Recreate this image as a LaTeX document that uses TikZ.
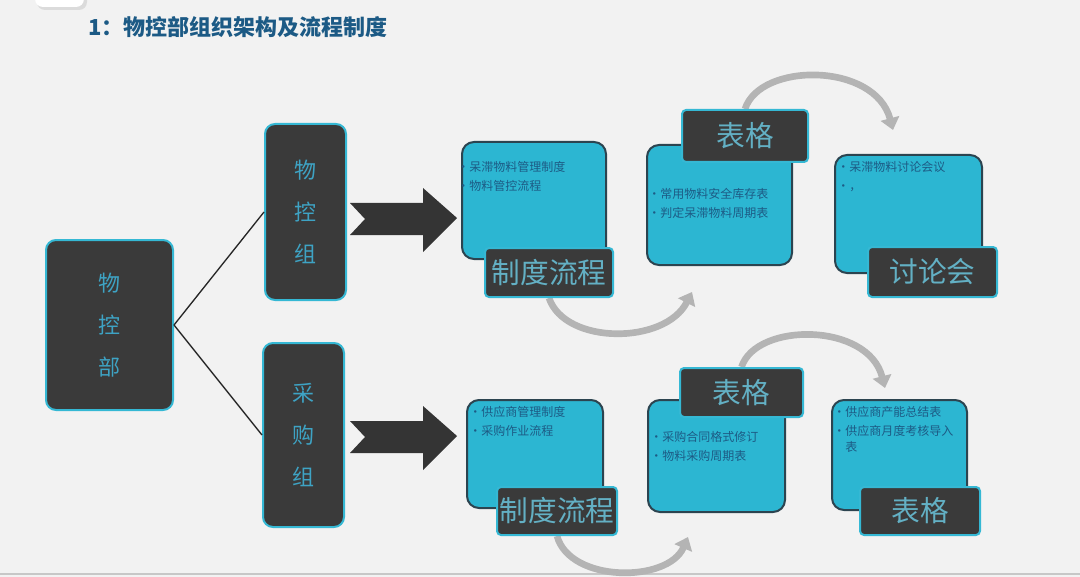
\documentclass[tikz,border=0pt]{standalone}
\usepackage{fontspec}
\setmainfont{Noto Sans CJK SC}
\usetikzlibrary{arrows.meta}

\definecolor{slidebg}{RGB}{242,242,242}
\definecolor{titleblue}{RGB}{28,90,133}
\definecolor{darkfill}{RGB}{58,58,58}
\definecolor{edgecyan}{RGB}{53,184,212}
\definecolor{vtext}{RGB}{62,163,196}
\definecolor{tagtext}{RGB}{99,176,196}
\definecolor{cyanfill}{RGB}{44,182,210}
\definecolor{cyanedge}{RGB}{44,68,80}
\definecolor{bullettext}{RGB}{29,91,133}
\definecolor{arcgrey}{RGB}{180,180,180}
\definecolor{arrowdark}{RGB}{52,52,52}

\pgfdeclarelayer{canvas}
\pgfdeclarelayer{arcs}
\pgfsetlayers{canvas,arcs,main}

\tikzset{
box size/.style 2 args={minimum width=#1*0.75pt, minimum height=#2*0.75pt},
darkbox/.style={rectangle, rounded corners=7.5pt, fill=darkfill, draw=edgecyan, line width=1.5pt, text=vtext, inner sep=0pt, align=center, font=\fontsize{16.5}{31.5}\selectfont},
cyanbox/.style={rectangle, rounded corners=9pt, fill=cyanfill, draw=cyanedge, line width=1.5pt, inner sep=0pt},
tagbox/.style={rectangle, rounded corners=3pt, fill=darkfill, draw=edgecyan, line width=1.5pt, text=tagtext, inner sep=0pt, font=\fontsize{21.5}{24}\selectfont},
bullets/.style={anchor=north west, inner sep=0pt, align=left, text=bullettext, font=\fontsize{9}{14.5}\selectfont},
linkline/.style={draw=black!85, line width=1pt},
greyarc/.style={draw=arcgrey, line width=5pt, -{Triangle[length=9pt,width=14pt]}}
}
\tikzset{every picture/.style={line width=0.75pt}}

\begin{document}
\begin{tikzpicture}[x=0.75pt,y=0.75pt,yscale=-1,xscale=1]
\useasboundingbox (0,0) rectangle (1080,577);

\begin{pgfonlayer}{canvas}
%Shape: Rectangle (slide)
\fill[slidebg] (0,0) rectangle (1080,577);
\draw[black!22, line width=1.5] (0,574) -- (1080,574);
%Shape: Rectangle (tab at top left)
\fill[black!14, rounded corners=6] (37,-20) rectangle (87,10);
\fill[white, rounded corners=6] (35,-20) rectangle (84,7);
\end{pgfonlayer}

% Text Node
\node[anchor=west, inner sep=0pt, text=titleblue, font=\fontsize{16.5}{18}\selectfont\bfseries] (title) at (88,27) {1：物控部组织架构及流程制度};

%Shape: Rectangle
\node[darkbox, box size={127}{170}] (dept) at (109.5,325) {物\\控\\部};
\node[darkbox, box size={81}{176}] (grpA) at (305.5,212) {物\\控\\组};
\node[darkbox, box size={81}{184}] (grpB) at (303.5,435) {采\\购\\组};

%Straight Lines
\draw[linkline] (dept.east) -- (grpA.west);
\draw[linkline] (dept.east) -- (grpB.west);

%Shape: Right Arrow
\foreach \dy in {0,218} {
\fill[arrowdark, shift={(0,\dy)}] (350,203) -- (423,203) -- (423,188) -- (457,218) -- (423,252) -- (423,235) -- (350,235) -- (365,219) -- cycle;
}

%Shape: Rectangle (upper row)
\node[cyanbox, box size={144}{117}] (polA) at (534,200.5) {};
\node[tagbox, box size={128}{49}] (polAtag) at (549,272.5) {制度流程};
\node[cyanbox, box size={145}{120}] (formA) at (719.5,205) {};
\node[tagbox, box size={126}{52}] (formAtag) at (745,136) {表格};
\node[cyanbox, box size={147}{118}] (meetA) at (908.5,214) {};
\node[tagbox, box size={129}{50}] (meetAtag) at (932.5,272) {讨论会};

%Shape: Rectangle (lower row)
\node[cyanbox, box size={136}{108}] (polB) at (535,454) {};
\node[tagbox, box size={120}{48}] (polBtag) at (557,511) {制度流程};
\node[cyanbox, box size={137}{112}] (formB) at (716.5,456) {};
\node[tagbox, box size={123}{49}] (formBtag) at (741.5,392.5) {表格};
\node[cyanbox, box size={135}{110}] (sumB) at (899.5,455) {};
\node[tagbox, box size={120}{48}] (sumBtag) at (920,511) {表格};

% Text Node
\node[bullets] (polAtxt) at (457,161) {•呆滞物料管理制度\\•物料管控流程};
\node[bullets] (formAtxt) at (648,188) {•常用物料安全库存表\\•判定呆滞物料周期表};
\node[bullets] (meetAtxt) at (837,161) {•呆滞物料讨论会议\\•，};
\node[bullets] (polBtxt) at (469,406) {•供应商管理制度\\•采购作业流程};
\node[bullets] (formBtxt) at (650,431) {•采购合同格式修订\\•物料采购周期表};
\node[bullets] (sumBtxt) at (833,406) {•供应商产能总结表\\•供应商月度考核导入\\[-3pt]\phantom{•}表};

%Curve Lines
\coordinate (tipA1) at (692,292);
\coordinate (tipA2) at (893,130);
\coordinate (tipB1) at (688,537);
\coordinate (tipB2) at (885,388);
\begin{pgfonlayer}{arcs}
\draw[greyarc] (polAtag.south) .. controls (565,345) and (665,345) .. (tipA1);
\draw[greyarc] (formAtag.north) .. controls (760,62) and (875,62) .. (tipA2);
\draw[greyarc] (polBtag.south) .. controls (570,583) and (668,583) .. (tipB1);
\draw[greyarc] (formBtag.north) .. controls (756,322) and (868,322) .. (tipB2);
\end{pgfonlayer}

\end{tikzpicture}
\end{document}
